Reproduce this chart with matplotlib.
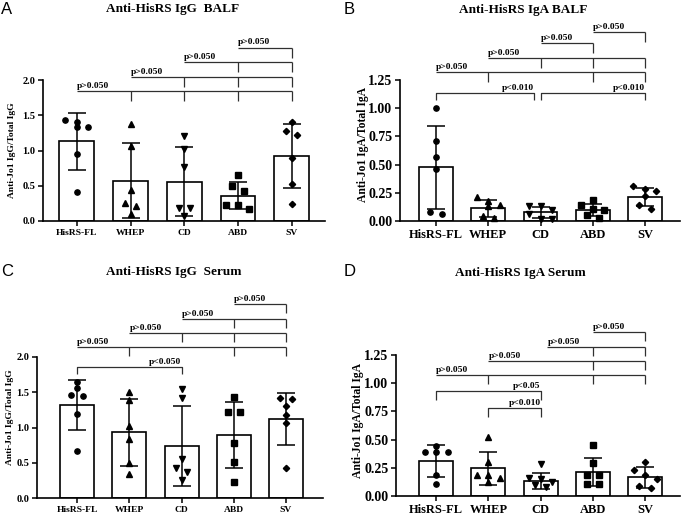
import numpy as np
import matplotlib.pyplot as plt

W, H = 685, 515

groups = ["HisRS-FL", "WHEP", "CD", "ABD", "SV"]
markers = ["o", "^", "v", "s", "D"]
msizes = [3.8, 4.2, 4.2, 3.8, 3.2]

# A: anti-HisRS IgG, BALF
a_title = "Anti-HisRS IgG  BALF"
a_ylabel = "Anti-Jo1 IgG/Total IgG"
a_mean = [1.13, 0.57, 0.56, 0.36, 0.92]
a_sd = [0.40, 0.53, 0.49, 0.19, 0.45]
a_pts = [[1.43, 1.40, 1.34, 1.33, 0.95, 0.41],
         [1.38, 1.07, 0.44, 0.25, 0.21, 0.10],
         [1.21, 1.02, 0.77, 0.18, 0.18, 0.07],
         [0.65, 0.49, 0.43, 0.23, 0.23, 0.17],
         [1.40, 1.27, 1.22, 0.90, 0.53, 0.24]]

# B: anti-HisRS IgA, BALF
b_title = "Anti-HisRS IgA BALF"
b_ylabel = "Anti-Jo1 IgA/Total IgA"
b_mean = [0.475, 0.113, 0.076, 0.097, 0.214]
b_sd = [0.37, 0.074, 0.05, 0.05, 0.08]
b_pts = [[1.00, 0.71, 0.57, 0.46, 0.08, 0.06],
         [0.21, 0.18, 0.14, 0.13, 0.04, 0.03],
         [0.13, 0.13, 0.10, 0.06, 0.02, 0.02],
         [0.19, 0.14, 0.11, 0.10, 0.05, 0.03],
         [0.31, 0.28, 0.27, 0.22, 0.14, 0.11]]

# C: anti-HisRS IgG, serum
c_title = "Anti-HisRS IgG  Serum"
c_ylabel = "Anti-Jo1 IgG/Total IgG"
c_mean = [1.32, 0.93, 0.735, 0.89, 1.12]
c_sd = [0.355, 0.47, 0.57, 0.47, 0.37]
c_pts = [[1.65, 1.56, 1.46, 1.44, 1.19, 0.67],
         [1.51, 1.39, 1.02, 0.84, 0.49, 0.34],
         [1.55, 1.42, 0.55, 0.42, 0.37, 0.25],
         [1.43, 1.22, 1.22, 0.78, 0.51, 0.23],
         [1.42, 1.41, 1.30, 1.18, 1.06, 0.42]]

# D: anti-HisRS IgA, serum
d_title = "Anti-HisRS IgA Serum"
d_ylabel = "Anti-Jo1 IgA/Total IgA"
d_mean = [0.31, 0.245, 0.135, 0.215, 0.165]
d_sd = [0.14, 0.147, 0.07, 0.125, 0.095]
d_pts = [[0.44, 0.39, 0.39, 0.39, 0.19, 0.11],
         [0.52, 0.30, 0.19, 0.19, 0.16, 0.12],
         [0.28, 0.16, 0.15, 0.12, 0.10, 0.08],
         [0.45, 0.29, 0.19, 0.19, 0.11, 0.11],
         [0.30, 0.23, 0.19, 0.15, 0.09, 0.07]]

# comparison brackets: ('row', left, ticks, height, label) / ('pair', left, right, height, label)
a_cmp = [("row", 0, [1, 2, 3, 4], 1.84, "p>0.050"),
         ("row", 1, [2, 3, 4], 2.04, "p>0.050"),
         ("row", 2, [3, 4], 2.25, "p>0.050"),
         ("row", 3, [4], 2.46, "p>0.050")]
b_cmp = [("pair", 0, 1.87, 1.135, "p<0.010"),
         ("pair", 2, 4, 1.135, "p<0.010"),
         ("row", 0, [1, 3, 4], 1.32, "p>0.050"),
         ("row", 1, [2, 3, 4], 1.445, "p>0.050"),
         ("row", 2, [3], 1.58, "p>0.050"),
         ("row", 3, [4], 1.675, "p>0.050")]
c_cmp = [("pair", 0, 2, 1.86, "p<0.050"),
         ("row", 0, [1, 3, 4], 2.14, "p>0.050"),
         ("row", 1, [2, 3, 4], 2.34, "p>0.050"),
         ("row", 2, [3, 4], 2.54, "p>0.050"),
         ("row", 3, [4], 2.75, "p>0.050")]
d_cmp = [("pair", 1, 2, 0.78, "p<0.010"),
         ("pair", 0, 2, 0.93, "p<0.05"),
         ("row", 0, [1, 3, 4], 1.073, "p>0.050"),
         ("row", 1, [3, 4], 1.197, "p>0.050"),
         ("row", 2.13, [3, 4], 1.32, "p>0.050"),
         ("row", 3, [4], 1.454, "p>0.050")]

SERIF = "Liberation Serif"


def swarm(ax, vals, spacing_px=11.5, thresh_px=5.0):
    # spread points that sit at nearly the same height into side-by-side columns
    ypx = ax.transData.transform(np.c_[np.zeros(len(vals)), vals])[:, 1]
    order = np.argsort(-np.asarray(vals))
    offs = np.zeros(len(vals))
    clusters = [[order[0]]]
    for k in order[1:]:
        if abs(ypx[clusters[-1][-1]] - ypx[k]) < thresh_px:
            clusters[-1].append(k)
        else:
            clusters.append([k])
    for cl in clusters:
        for s in range(0, len(cl), 3):
            chunk = cl[s:s + 3]
            n = len(chunk)
            for j, k in enumerate(chunk):
                offs[k] = (j - (n - 1) / 2) * spacing_px
    x0 = ax.transData.transform([(0, 0), (1, 0)])[:, 0]
    return offs / (x0[1] - x0[0])


def panel(box, ppu, means, sds, pts, cmp, ytop_tick, ystep, fmt, xfs, yfs, drop, pdrop):
    l, r, b, t, xl, xr = box
    ax = fig.add_axes([l / W, 1 - b / H, (r - l) / W, (b - t) / H])
    ax.set_xlim(xl, xr)
    ax.set_ylim(0, (b - t) / ppu)
    x = np.arange(len(groups))
    ax.bar(x, means, width=0.65, color="white", edgecolor="black", lw=1.2, zorder=1)
    ax.errorbar(x, means, yerr=sds, fmt="none", ecolor="black", elinewidth=1.1,
                capsize=6.5, capthick=1.1, zorder=2)
    for i, vals in enumerate(pts):
        off = swarm(ax, vals)
        ax.plot(x[i] + off, vals, markers[i], ls="none", color="black",
                ms=msizes[i], zorder=3, clip_on=False)
    for c in cmp:
        kw = dict(color="#303030", lw=0.9, clip_on=False, solid_capstyle="butt")
        if c[0] == "row":
            _, left, ticks, h, lab = c
            ax.plot([left, max(ticks)], [h, h], **kw)
            for tk in ticks:
                ax.plot([tk, tk], [h, h - drop], **kw)
            ax.annotate(lab, (left, h), xytext=(0, 0.8), textcoords="offset points",
                        ha="left", va="bottom", fontsize=6.8, fontfamily=SERIF,
                        fontweight="bold", annotation_clip=False)
        else:
            _, left, right, h, lab = c
            ax.plot([left, left, right, right], [h - pdrop, h, h, h - pdrop], **kw)
            ax.annotate(lab, (right, h), xytext=(0, 0.8), textcoords="offset points",
                        ha="right", va="bottom", fontsize=6.8, fontfamily=SERIF,
                        fontweight="bold", annotation_clip=False)
    yt = np.arange(0, ytop_tick + 1e-9, ystep)
    ax.set_yticks(yt)
    ax.set_yticklabels([fmt % v for v in yt])
    ax.set_xticks(x)
    ax.set_xticklabels(groups)
    for lab in ax.get_xticklabels():
        lab.set_fontfamily(SERIF)
        lab.set_fontweight("bold")
        lab.set_fontsize(xfs)
    for lab in ax.get_yticklabels():
        lab.set_fontfamily(SERIF)
        lab.set_fontweight("bold")
        lab.set_fontsize(yfs)
    ax.tick_params(direction="out", length=3.5, width=1.1, pad=2)
    for s in ["top", "right"]:
        ax.spines[s].set_visible(False)
    for s in ["left", "bottom"]:
        ax.spines[s].set_linewidth(1.2)
    ax.spines["left"].set_bounds(0, ytop_tick)
    return ax


def ftext(xp, yp, s, **kw):
    fig.text(xp / W, 1 - yp / H, s, **kw)


fig = plt.figure(figsize=(W / 100, H / 100), dpi=100)

panel((43, 325, 221, 30, -0.63, 4.62), 70.5, a_mean, a_sd, a_pts, a_cmp,
      2.0, 0.5, "%.1f", 6.8, 7.5, 0.142, 0.1)
panel((400, 680, 221, 25, -0.69, 4.67), 112.8, b_mean, b_sd, b_pts, b_cmp,
      1.25, 0.25, "%.2f", 9, 10, 0.089, 0.062)
panel((37, 323, 498, 295, -0.77, 4.71), 70.5, c_mean, c_sd, c_pts, c_cmp,
      2.0, 0.5, "%.1f", 6.8, 7.5, 0.13, 0.1)
panel((396, 680, 496, 320, -0.77, 4.67), 112.8, d_mean, d_sd, d_pts, d_cmp,
      1.25, 0.25, "%.2f", 9, 10, 0.08, 0.08)

tkw = dict(ha="center", va="center", fontfamily=SERIF, fontweight="bold", fontsize=9.5)
ftext(173, 9, a_title, **tkw)
ftext(523, 10, b_title, **tkw)
ftext(174, 272, c_title, **tkw)
ftext(520, 273, d_title, **tkw)

ykw = dict(ha="center", va="center", rotation=90, fontfamily=SERIF, fontweight="bold")
ftext(12, 150, a_ylabel, fontsize=6.8, **ykw)
ftext(363, 145, b_ylabel, fontsize=8.4, **ykw)
ftext(10, 417, c_ylabel, fontsize=6.8, **ykw)
ftext(358, 420, d_ylabel, fontsize=8.4, **ykw)

lkw = dict(ha="left", va="center", fontfamily="Liberation Sans", fontsize=12)
ftext(1, 10, "A", **lkw)
ftext(344, 9, "B", **lkw)
ftext(1, 272, "C", **lkw)
ftext(344, 272, "D", **lkw)

fig.savefig("out.png", dpi=100)
